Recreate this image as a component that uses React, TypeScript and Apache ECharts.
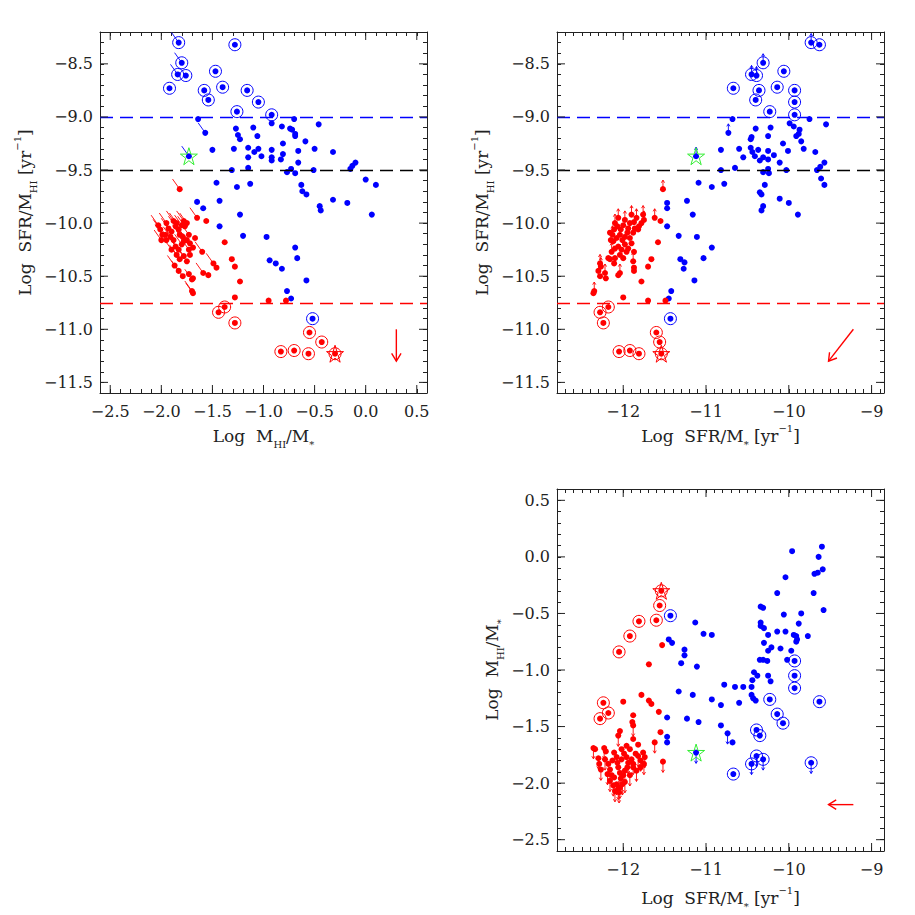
import React, { useEffect, useRef } from "react";
import * as echarts from "echarts";

// ---------------- axis ranges and major ticks ----------------
const GF_X_RANGE = [-2.6, 0.6];
const SFE_RANGE = [-11.6, -8.2];
const SSFR_RANGE = [-12.8, -8.85];
const GF_Y_RANGE = [-2.6, 0.6];
const GF_MAJOR = [-2.5, -2.0, -1.5, -1.0, -0.5, 0.0, 0.5];
const SFE_MAJOR = [-11.5, -11.0, -10.5, -10.0, -9.5, -9.0, -8.5];
const SSFR_MAJOR = [-12, -11, -10, -9];
const DASH_LEVELS = [-9.0, -9.5, -10.75];

// limit lengths (data units): panel 1 tails, panel 2 up, panel 3 down
const LIM_P1 = [-0.07, 0.095];
const LIM_P2 = [0, 0.085];
const LIM_P3 = [0, -0.095];

// reference arrows [x0, y0, x1, y1]
const P1_ARROW = [[0.3, -11.0, 0.3, -11.3]];
const P2_ARROW = [[-9.22, -11.0, -9.52, -11.3]];
const P3_ARROW = [[-9.22, -2.19, -9.52, -2.19]];

// ---------------- Panel 1: x = log MHI/M*, y = log SFR/MHI  [x, y, limit] ----------------
const P1_BLUE = [
  [-1.64, -9.02, 0], [-1.57, -9.15, 1], [-1.5, -9.31, 0], [-1.27, -9.11, 0], [-1.25, -9.17, 0],
  [-1.23, -9.21, 0], [-1.1, -9.1, 0], [-1.29, -9.3, 0], [-1.15, -9.29, 0], [-1.06, -9.18, 0],
  [-1.09, -9.33, 0], [-1.05, -9.3, 0], [-1.15, -9.38, 0], [-1.02, -9.37, 0], [-1.15, -9.48, 0],
  [-1.31, -9.5, 0], [-1.46, -9.62, 0], [-1.26, -9.66, 0], [-1.13, -9.63, 0], [-1.43, -9.79, 0],
  [-1.65, -9.8, 0], [-1.59, -9.86, 0], [-1.23, -9.92, 0], [-1.43, -10.03, 0], [-1.2, -10.12, 0],
  [-0.92, -9.06, 0], [-0.82, -9.09, 0], [-0.74, -9.11, 0], [-0.72, -9.12, 0], [-0.7, -9.02, 0],
  [-0.69, -9.16, 0], [-0.69, -9.18, 0], [-0.81, -9.25, 0], [-0.92, -9.31, 0], [-0.81, -9.35, 0],
  [-0.92, -9.38, 0], [-0.92, -9.41, 0], [-0.83, -9.4, 0], [-0.66, -9.32, 0], [-0.59, -9.23, 0],
  [-0.5, -9.3, 0], [-0.66, -9.43, 0], [-0.73, -9.49, 0], [-0.77, -9.52, 0], [-0.69, -9.53, 0],
  [-0.51, -9.5, 0], [-0.46, -9.07, 0], [-0.32, -9.33, 0], [-0.63, -9.64, 0], [-0.62, -9.7, 0],
  [-0.58, -9.73, 0], [-0.45, -9.84, 0], [-0.44, -9.88, 0], [-0.32, -9.78, 0], [-0.18, -9.81, 0],
  [-0.15, -9.49, 0], [-0.13, -9.46, 0], [-0.1, -9.43, 0], [0.0, -9.59, 0], [0.1, -9.64, 0],
  [0.06, -9.92, 0], [-0.97, -10.13, 0], [-0.94, -10.35, 0], [-0.88, -10.38, 0], [-0.82, -10.43, 0],
  [-0.69, -10.23, 0], [-0.67, -10.33, 0], [-0.58, -10.54, 0], [-0.77, -10.64, 0], [-0.73, -10.71, 0],
];
const P1_BLUE_RING = [
  [-1.83, -8.3, 1], [-1.28, -8.32, 0], [-1.8, -8.49, 1], [-1.84, -8.6, 1], [-1.76, -8.61, 0],
  [-1.47, -8.57, 0], [-1.92, -8.73, 0], [-1.58, -8.75, 0], [-1.54, -8.84, 0], [-1.4, -8.72, 0],
  [-1.16, -8.75, 0], [-1.05, -8.86, 0], [-1.26, -8.95, 0], [-0.92, -8.98, 0], [-0.52, -10.9, 0],
];
const P1_GREEN_STAR = [[-1.73, -9.37, 1]];
const P1_RED = [
  [-1.82, -9.68, 1], [-1.65, -9.95, 1], [-1.56, -9.98, 0],
  [-2.03, -10.02, 1], [-2.01, -10.06, 1], [-1.99, -10.11, 1], [-2.0, -10.16, 1], [-1.95, -10.16, 1],
  [-1.95, -10.0, 1], [-1.93, -10.05, 1], [-1.9, -10.08, 1], [-1.88, -9.98, 1], [-1.86, -10.03, 1],
  [-1.85, -10.0, 1], [-1.83, -10.06, 1], [-1.82, -10.11, 1], [-1.8, -10.02, 1], [-1.78, -9.98, 1],
  [-1.77, -10.03, 1], [-1.75, -10.0, 1], [-1.79, -10.13, 1], [-1.78, -10.17, 1], [-1.8, -10.2, 1],
  [-1.75, -10.16, 1], [-1.73, -10.11, 1], [-1.72, -10.19, 1], [-1.67, -10.14, 0], [-1.83, -10.25, 1],
  [-1.85, -10.3, 1], [-1.82, -10.34, 1], [-1.78, -10.31, 1], [-1.73, -10.25, 1], [-1.72, -10.3, 0],
  [-1.75, -10.36, 1], [-1.87, -10.4, 1], [-1.83, -10.45, 1], [-1.79, -10.5, 1], [-1.73, -10.48, 0],
  [-1.7, -10.53, 1], [-1.69, -10.52, 0], [-1.7, -10.64, 1], [-1.69, -10.66, 1], [-1.96, -10.11, 1],
  [-1.91, -10.13, 1], [-1.88, -10.16, 1], [-1.86, -10.22, 1], [-1.9, -10.25, 1], [-1.6, -10.27, 1],
  [-1.69, -10.23, 0], [-1.49, -10.38, 1], [-1.46, -10.42, 0], [-1.54, -10.49, 0], [-1.59, -10.47, 1],
  [-1.38, -10.18, 0], [-1.31, -10.34, 0], [-1.28, -10.41, 0], [-1.23, -10.55, 0], [-1.28, -10.7, 0],
  [-0.95, -10.73, 0], [-0.78, -10.73, 0],
];
const P1_RED_RING = [
  [-1.44, -10.84], [-1.38, -10.79], [-1.28, -10.94], [-0.83, -11.21], [-0.7, -11.2],
  [-0.55, -11.03], [-0.56, -11.23], [-0.43, -11.12], [-0.3, -11.23],
];
const P1_RED_STAR = [[-0.3, -11.23]];

// ---------------- Panel 2: x = log SFR/M*, y = log SFR/MHI  [x, y, limit] ----------------
const P2_BLUE = [
  [-10.68, -9.02, 0], [-10.73, -9.15, 1], [-10.82, -9.31, 0], [-10.6, -9.3, 0], [-10.55, -9.38, 0],
  [-10.65, -9.48, 0], [-10.82, -9.5, 0], [-10.78, -9.63, 0], [-10.93, -9.66, 0], [-11.09, -9.62, 0],
  [-10.4, -9.11, 0], [-10.45, -9.19, 0], [-10.46, -9.21, 0], [-10.46, -9.29, 0], [-10.44, -9.33, 0],
  [-10.41, -9.37, 0], [-10.37, -9.31, 0], [-10.35, -9.41, 0], [-10.31, -9.38, 0], [-10.25, -9.32, 0],
  [-10.25, -9.4, 0], [-10.25, -9.49, 0], [-10.24, -9.53, 0], [-10.31, -9.52, 0], [-10.22, -9.1, 0],
  [-10.25, -9.18, 0], [-10.18, -9.36, 0], [-10.11, -9.43, 0], [-10.07, -9.25, 0], [-10.03, -9.5, 0],
  [-10.01, -9.32, 0], [-9.99, -9.06, 0], [-9.94, -9.09, 0], [-9.91, -9.18, 0], [-9.88, -9.16, 0],
  [-9.87, -9.12, 0], [-9.85, -9.23, 0], [-9.82, -9.3, 0], [-9.75, -9.02, 0], [-9.68, -9.33, 0],
  [-9.66, -9.5, 0], [-9.62, -9.47, 0], [-9.57, -9.43, 0], [-9.55, -9.07, 0], [-9.61, -9.58, 0],
  [-9.57, -9.64, 0], [-10.35, -9.71, 0], [-10.33, -9.73, 0], [-10.29, -9.64, 0], [-10.33, -9.88, 0],
  [-10.31, -9.84, 0], [-10.11, -9.77, 0], [-10.0, -9.81, 0], [-9.89, -9.92, 0], [-11.47, -9.81, 0],
  [-11.47, -9.86, 0], [-11.47, -10.03, 0], [-11.33, -10.12, 0], [-11.23, -9.79, 0], [-11.16, -9.92, 0],
  [-11.31, -10.34, 0], [-11.26, -10.37, 0], [-11.27, -10.43, 0], [-11.11, -10.13, 0], [-10.93, -10.23, 0],
  [-11.03, -10.33, 0], [-11.14, -10.54, 0], [-11.42, -10.64, 0], [-11.45, -10.71, 0],
];
const P2_BLUE_RING = [
  [-9.73, -8.3, 1], [-9.63, -8.32, 0], [-10.31, -8.49, 1], [-10.45, -8.6, 1], [-10.39, -8.61, 1],
  [-10.06, -8.57, 0], [-10.67, -8.73, 0], [-10.36, -8.75, 0], [-10.4, -8.84, 0], [-10.14, -8.72, 0],
  [-9.93, -8.75, 0], [-9.93, -8.86, 0], [-10.23, -8.95, 0], [-9.93, -8.98, 0], [-11.43, -10.9, 0],
];
const P2_GREEN_STAR = [[-11.12, -9.37, 1]];
const P2_RED = [
  [-11.52, -9.68, 1], [-11.62, -9.95, 1], [-11.55, -9.98, 0], [-11.76, -9.92, 1], [-11.75, -9.97, 1],
  [-11.78, -10.0, 0], [-11.81, -10.03, 0], [-11.84, -9.95, 1], [-11.87, -9.99, 0], [-11.9, -9.92, 1],
  [-11.92, -10.0, 0], [-11.94, -10.05, 0], [-11.98, -9.97, 1], [-12.0, -10.02, 0], [-12.03, -10.06, 0],
  [-12.06, -9.95, 1], [-12.07, -10.03, 0], [-12.1, -10.0, 1], [-12.11, -10.06, 0], [-12.13, -10.11, 1],
  [-12.16, -10.09, 0], [-12.15, -10.16, 0], [-12.12, -10.17, 0], [-12.08, -10.14, 0], [-12.04, -10.11, 0],
  [-12.01, -10.16, 0], [-11.98, -10.13, 0], [-11.95, -10.09, 0], [-11.92, -10.14, 0], [-11.88, -10.09, 0],
  [-11.86, -10.05, 0], [-11.82, -10.06, 0], [-11.9, -10.19, 0], [-11.94, -10.24, 0], [-11.98, -10.2, 0],
  [-12.02, -10.25, 0], [-12.06, -10.22, 0], [-12.1, -10.24, 0], [-12.14, -10.27, 1], [-12.18, -10.33, 0],
  [-12.16, -10.34, 0], [-12.1, -10.33, 0], [-12.04, -10.3, 0], [-12.0, -10.33, 0], [-11.96, -10.27, 0],
  [-11.87, -10.27, 0], [-11.88, -10.36, 1], [-11.87, -10.42, 0], [-11.87, -10.45, 0], [-11.58, -10.18, 0],
  [-11.66, -10.34, 0], [-11.7, -10.41, 0], [-11.78, -10.55, 0], [-12.04, -10.47, 1], [-12.06, -10.49, 0],
  [-12.28, -10.38, 1], [-12.27, -10.41, 1], [-12.3, -10.45, 0], [-12.28, -10.5, 0], [-12.22, -10.47, 1],
  [-12.21, -10.52, 0], [-12.35, -10.64, 1], [-12.36, -10.66, 0], [-12.0, -10.7, 0], [-11.7, -10.73, 0],
  [-11.49, -10.73, 0], [-12.11, -10.38, 0],
];
const P2_RED_RING = [
  [-12.28, -10.84], [-12.18, -10.79], [-12.24, -10.94], [-12.05, -11.21], [-11.92, -11.2],
  [-11.6, -11.03], [-11.81, -11.23], [-11.56, -11.12], [-11.54, -11.23],
];
const P2_RED_STAR = [[-11.54, -11.23]];

// ---------------- Panel 3: x = log SFR/M*, y = log MHI/M*  [x, y, limit] ----------------
const P3_BLUE = [
  [-11.13, -0.58, 0], [-11.03, -0.68, 0], [-10.93, -0.69, 0], [-11.45, -0.73, 0], [-11.41, -0.76, 0],
  [-11.26, -0.82, 0], [-11.26, -0.87, 0], [-11.3, -0.94, 0], [-11.11, -0.97, 0], [-11.33, -1.19, 0],
  [-11.16, -1.22, 0], [-11.47, -1.42, 0], [-11.23, -1.43, 0], [-11.09, -1.46, 0], [-11.47, -1.59, 0],
  [-11.47, -1.64, 0], [-10.93, -1.26, 0], [-10.82, -1.31, 0], [-10.78, -1.13, 0], [-10.82, -1.49, 0],
  [-10.74, -1.56, 1], [-10.68, -1.64, 0], [-10.65, -1.15, 0], [-10.6, -1.29, 0], [-10.55, -1.15, 0],
  [-10.45, -1.15, 0], [-10.45, -1.22, 0], [-10.43, -1.25, 0], [-10.4, -1.27, 0], [-10.44, -1.09, 0],
  [-10.42, -1.02, 0], [-10.38, -1.05, 0], [-10.35, -0.91, 0], [-10.31, -0.91, 0], [-10.26, -0.92, 0],
  [-10.25, -1.05, 0], [-10.22, -1.1, 0], [-10.25, -0.83, 0], [-10.25, -0.69, 0], [-10.3, -0.76, 0],
  [-10.3, -0.63, 0], [-10.34, -0.58, 0], [-10.34, -0.61, 0], [-10.34, -0.44, 0], [-10.31, -0.45, 0],
  [-10.21, -0.8, 0], [-10.14, -0.32, 0], [-10.14, -0.66, 0], [-10.1, -0.81, 0], [-10.06, -0.51, 0],
  [-10.04, -0.66, 0], [-10.04, -0.18, 0], [-10.02, -0.91, 0], [-9.97, -0.83, 0], [-9.94, -0.69, 0],
  [-9.91, -0.7, 0], [-9.9, -0.73, 0], [-9.91, -0.75, 0], [-9.88, -0.59, 0], [-9.85, -0.5, 0],
  [-9.96, 0.05, 0], [-9.77, -0.7, 0], [-9.7, -0.32, 0], [-9.69, -0.15, 0], [-9.65, -0.14, 0],
  [-9.64, 0.0, 0], [-9.6, 0.09, 0], [-9.59, -0.11, 0], [-9.58, -0.47, 0],
];
const P3_BLUE_RING = [
  [-11.43, -0.52, 0], [-9.93, -0.92, 0], [-9.93, -1.05, 0], [-9.93, -1.16, 0], [-10.23, -1.26, 0],
  [-9.63, -1.28, 0], [-10.14, -1.39, 0], [-10.07, -1.47, 0], [-10.39, -1.53, 0], [-10.35, -1.58, 0],
  [-10.67, -1.92, 0], [-10.45, -1.83, 1], [-10.39, -1.76, 1], [-10.31, -1.79, 1], [-9.73, -1.82, 1],
];
const P3_GREEN_STAR = [[-11.12, -1.73, 1]];
const P3_RED = [
  [-11.53, -0.78, 0], [-11.69, -0.95, 0], [-11.78, -1.22, 0], [-11.69, -1.27, 0], [-11.66, -1.3, 0],
  [-12.0, -1.28, 0], [-11.57, -1.37, 0], [-11.55, -1.55, 0], [-11.62, -1.64, 1], [-11.52, -1.81, 1],
  [-11.88, -1.4, 0], [-11.89, -1.46, 0], [-11.88, -1.49, 1], [-12.04, -1.54, 0], [-12.06, -1.58, 1],
  [-11.88, -1.61, 0], [-11.82, -1.66, 0],
  [-12.36, -1.69, 1], [-12.34, -1.7, 0], [-12.3, -1.78, 1], [-12.29, -1.83, 0], [-12.27, -1.88, 1],
  [-12.23, -1.69, 1], [-12.21, -1.72, 0], [-12.22, -1.79, 1], [-12.18, -1.83, 0], [-12.16, -1.88, 1],
  [-12.19, -1.92, 1], [-12.13, -1.8, 0], [-12.11, -1.73, 0], [-12.08, -1.77, 0], [-12.07, -1.82, 0],
  [-12.06, -1.86, 0], [-12.04, -1.91, 1], [-12.03, -1.96, 0], [-12.01, -2.01, 1], [-12.04, -2.04, 1],
  [-12.08, -2.01, 1], [-12.11, -1.95, 0], [-12.16, -1.98, 1], [-12.12, -2.02, 1], [-12.06, -2.05, 1],
  [-12.05, -2.08, 1], [-12.02, -1.79, 0], [-11.99, -1.74, 0], [-11.96, -1.77, 0], [-11.94, -1.82, 1],
  [-11.95, -1.86, 0], [-11.98, -1.89, 1], [-11.92, -1.93, 1], [-11.9, -1.79, 0], [-11.88, -1.83, 1],
  [-11.85, -1.74, 0], [-11.82, -1.76, 1], [-11.79, -1.8, 1], [-11.76, -1.73, 0], [-11.74, -1.77, 1],
  [-11.88, -1.86, 0], [-11.84, -1.89, 1], [-11.79, -1.86, 0], [-11.75, -1.83, 1], [-11.96, -1.67, 0],
  [-11.92, -1.7, 0], [-12.02, -1.7, 0], [-12.1, -2.07, 1], [-12.0, -1.93, 0], [-12.14, -1.93, 0],
  [-11.98, -1.99, 1],
];
const P3_RED_RING = [
  [-11.56, -0.43], [-11.6, -0.56], [-11.81, -0.57], [-11.92, -0.7], [-12.05, -0.84],
  [-12.24, -1.29], [-12.18, -1.38], [-12.28, -1.43], [-11.54, -0.3],
];
const P3_RED_STAR = [[-11.54, -0.3]];

// ---------------- styles ----------------
const FONT = "'DejaVu Serif', 'Liberation Serif', serif";
const INK = "#222";
const BLUE = "#0000ff";
const RED = "#ff0000";
const GREEN = "#33ee33";
const DASH_COLORS = [BLUE, "#000000", RED];
const STAR = "path://M50,2 L61,37 L98,37 L68,59 L79,95 L50,73 L21,95 L32,59 L2,37 L39,37 Z";
const LINE = { color: INK, width: 1 };

const NAME_STYLE = {
  fontFamily: FONT,
  fontSize: 17,
  color: INK,
  rich: {
    n: { fontFamily: FONT, fontSize: 17, color: INK, lineHeight: 26 },
    s: { fontFamily: FONT, fontSize: 10, color: INK, lineHeight: 12, verticalAlign: "bottom" },
    p: { fontFamily: FONT, fontSize: 10, color: INK, lineHeight: 12, verticalAlign: "top" },
  },
};

function fmt(step: number, dec: number) {
  return (v: number) => {
    const r = Math.round(v / step);
    if (Math.abs(v / step - r) > 1e-6) return "";
    const val = r * step;
    if (Math.abs(val) < 1e-9) return (0).toFixed(dec);
    return (val < 0 ? "\u2212" : "") + Math.abs(val).toFixed(dec);
  };
}

function axis(kind: string, grid: number, pos: string, range: number[], labelFmt?: any, name?: string, nameGap?: number) {
  return {
    type: "value",
    gridIndex: grid,
    position: pos,
    min: range[0],
    max: range[1],
    interval: 0.1,
    axisLine: { show: true, onZero: false, lineStyle: LINE },
    axisTick: { show: true, inside: true, length: 4, lineStyle: LINE },
    axisLabel: labelFmt
      ? { show: true, formatter: labelFmt, margin: kind === "x" ? 10 : 7, fontFamily: FONT, fontSize: 16, color: INK }
      : { show: false },
    splitLine: { show: false },
    name: name || "",
    nameLocation: "middle",
    nameGap: nameGap || 0,
    nameTextStyle: NAME_STYLE,
  };
}

function dots(data: number[][], xi: number, color: string, dashes?: boolean): any {
  const s: any = {
    type: "scatter",
    xAxisIndex: xi,
    yAxisIndex: xi,
    silent: true,
    z: 4,
    symbol: "circle",
    symbolSize: 6,
    itemStyle: { color, opacity: 1 },
    data: data.map((p) => [p[0], p[1]]),
  };
  if (dashes) {
    s.markLine = {
      silent: true,
      symbol: ["none", "none"],
      label: { show: false },
      data: DASH_LEVELS.map((v, i) => ({
        yAxis: v,
        lineStyle: { color: DASH_COLORS[i], type: [13, 7], width: 1.3 },
      })),
    };
  }
  return s;
}

function outline(data: number[][], xi: number, color: string, symbol: string, size: number, z: number): any {
  return {
    type: "scatter",
    xAxisIndex: xi,
    yAxisIndex: xi,
    silent: true,
    z,
    symbol,
    symbolSize: size,
    itemStyle: { color: "rgba(0,0,0,0)", borderColor: color, borderWidth: 1, opacity: 1 },
    data: data.map((p) => [p[0], p[1]]),
  };
}

function arrows(segs: number[][], xi: number, color: string, head: number, width: number): any {
  return {
    type: "custom",
    xAxisIndex: xi,
    yAxisIndex: xi,
    silent: true,
    clip: false,
    z: 3,
    data: segs,
    encode: { x: [0, 2], y: [1, 3] },
    renderItem: (params: any, api: any) => {
      const p0 = api.coord([api.value(0), api.value(1)]);
      const p1 = api.coord([api.value(2), api.value(3)]);
      const st = { stroke: color, lineWidth: width, fill: "none" };
      const children: any[] = [
        { type: "line", shape: { x1: p0[0], y1: p0[1], x2: p1[0], y2: p1[1] }, style: st },
      ];
      if (head > 0) {
        const ang = Math.atan2(p1[1] - p0[1], p1[0] - p0[0]);
        const a1 = ang + Math.PI - 0.55;
        const a2 = ang + Math.PI + 0.55;
        children.push({
          type: "polyline",
          shape: {
            points: [
              [p1[0] + head * Math.cos(a1), p1[1] + head * Math.sin(a1)],
              [p1[0], p1[1]],
              [p1[0] + head * Math.cos(a2), p1[1] + head * Math.sin(a2)],
            ],
          },
          style: st,
        });
      }
      return { type: "group", children };
    },
  };
}

function limits(data: number[][], xi: number, color: string, d: number[], head: number): any {
  const segs = data.filter((p) => p[2]).map((p) => [p[0], p[1], p[0] + d[0], p[1] + d[1]]);
  return arrows(segs, xi, color, head, 0.9);
}

function majorTicks(xi: number, xMajor: number[], yMajor: number[], xr: number[], yr: number[]): any {
  const data = [...xMajor.map((v) => [v, yr[0], 0]), ...yMajor.map((v) => [xr[0], v, 1])];
  return {
    type: "custom",
    xAxisIndex: xi,
    yAxisIndex: xi,
    silent: true,
    clip: false,
    z: 10,
    data,
    encode: { x: 0, y: 1 },
    renderItem: (params: any, api: any) => {
      const cs = params.coordSys;
      const p = api.coord([api.value(0), api.value(1)]);
      const L = 8;
      const st = { stroke: INK, lineWidth: 1 };
      if (api.value(2) === 0) {
        return {
          type: "group",
          children: [
            { type: "line", shape: { x1: p[0], y1: cs.y + cs.height, x2: p[0], y2: cs.y + cs.height - L }, style: st },
            { type: "line", shape: { x1: p[0], y1: cs.y, x2: p[0], y2: cs.y + L }, style: st },
          ],
        };
      }
      return {
        type: "group",
        children: [
          { type: "line", shape: { x1: cs.x, y1: p[1], x2: cs.x + L, y2: p[1] }, style: st },
          { type: "line", shape: { x1: cs.x + cs.width, y1: p[1], x2: cs.x + cs.width - L, y2: p[1] }, style: st },
        ],
      };
    },
  };
}

function panelSeries(
  xi: number,
  blue: number[][],
  blueRing: number[][],
  green: number[][],
  red: number[][],
  redRing: number[][],
  redStar: number[][],
  lim: number[],
  head: number,
  ref: number[][],
  dashes: boolean,
  xMajor: number[],
  yMajor: number[],
  xr: number[],
  yr: number[]
): any[] {
  return [
    dots([...blue, ...blueRing, ...green], xi, BLUE, dashes),
    dots([...red, ...redRing], xi, RED),
    limits([...blue, ...blueRing, ...green], xi, BLUE, lim, head),
    limits(red, xi, RED, lim, head),
    outline(blueRing, xi, BLUE, "circle", 12, 5),
    outline(redRing, xi, RED, "circle", 12, 5),
    outline(green, xi, GREEN, STAR, 17, 6),
    outline(redStar, xi, RED, STAR, 17, 6),
    arrows(ref, xi, RED, 9, 1.4),
    majorTicks(xi, xMajor, yMajor, xr, yr),
  ];
}

function buildOption(): any {
  const sfeName = "{n|Log  SFR/M}{s|HI}{n| [yr}{p|\u22121}{n|]}";
  const gfName = "{n|Log  M}{s|HI}{n|/M}{s|*}";
  const ssfrName = "{n|Log  SFR/M}{s|*}{n| [yr}{p|\u22121}{n|]}";
  return {
    animation: false,
    backgroundColor: "#ffffff",
    grid: [
      { left: 100, top: 32, width: 327, height: 361 },
      { left: 557, top: 32, width: 327, height: 361 },
      { left: 557, top: 489, width: 327, height: 362 },
    ],
    xAxis: [
      axis("x", 0, "bottom", GF_X_RANGE, fmt(0.5, 1), gfName, 30),
      axis("x", 0, "top", GF_X_RANGE),
      axis("x", 1, "bottom", SSFR_RANGE, fmt(1, 0), ssfrName, 30),
      axis("x", 1, "top", SSFR_RANGE),
      axis("x", 2, "bottom", SSFR_RANGE, fmt(1, 0), ssfrName, 34),
      axis("x", 2, "top", SSFR_RANGE),
    ],
    yAxis: [
      axis("y", 0, "left", SFE_RANGE, fmt(0.5, 1), sfeName, 62),
      axis("y", 0, "right", SFE_RANGE),
      axis("y", 1, "left", SFE_RANGE, fmt(0.5, 1), sfeName, 62),
      axis("y", 1, "right", SFE_RANGE),
      axis("y", 2, "left", GF_Y_RANGE, fmt(0.5, 1), gfName, 52),
      axis("y", 2, "right", GF_Y_RANGE),
    ],
    series: [
      ...panelSeries(0, P1_BLUE, P1_BLUE_RING, P1_GREEN_STAR, P1_RED, P1_RED_RING, P1_RED_STAR, LIM_P1, 0, P1_ARROW, true, GF_MAJOR, SFE_MAJOR, GF_X_RANGE, SFE_RANGE),
      ...panelSeries(2, P2_BLUE, P2_BLUE_RING, P2_GREEN_STAR, P2_RED, P2_RED_RING, P2_RED_STAR, LIM_P2, 3, P2_ARROW, true, SSFR_MAJOR, SFE_MAJOR, SSFR_RANGE, SFE_RANGE),
      ...panelSeries(4, P3_BLUE, P3_BLUE_RING, P3_GREEN_STAR, P3_RED, P3_RED_RING, P3_RED_STAR, LIM_P3, 3, P3_ARROW, false, SSFR_MAJOR, GF_MAJOR, SSFR_RANGE, GF_Y_RANGE),
    ],
  };
}

export default function App() {
  const ref = useRef<HTMLDivElement>(null);
  useEffect(() => {
    if (!ref.current) return;
    const chart = echarts.init(ref.current, null, { renderer: "svg" });
    chart.setOption(buildOption());
    return () => chart.dispose();
  }, []);
  return (
    <div
      ref={ref}
      style={{ position: "fixed", left: 0, top: 0, width: 915, height: 915, background: "#fff" }}
    />
  );
}
